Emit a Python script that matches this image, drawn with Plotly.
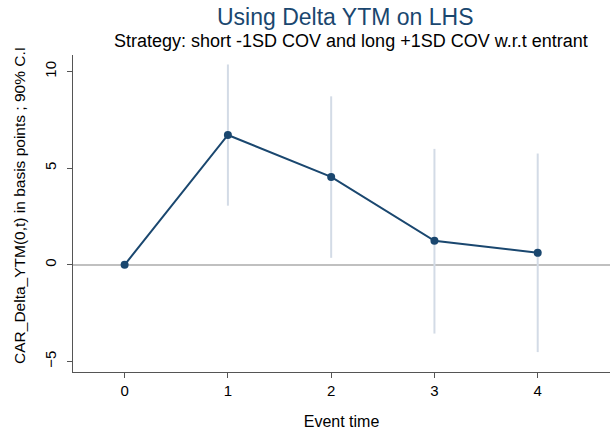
import plotly.graph_objects as go

event_time = [0, 1, 2, 3, 4]
car = [0.0, 6.72, 4.55, 1.24, 0.62]
ci_upper = [None, 10.37, 8.72, 6.0, 5.76]
ci_lower = [None, 3.06, 0.36, -3.56, -4.52]
x_ticks = [0, 1, 2, 3, 4]
y_ticks = [-5, 0, 5, 10]

FONT = "Liberation Sans, Arial, sans-serif"
NAVY = "#1a476f"

fig = go.Figure()

# confidence interval spikes
for x, lo, hi in zip(event_time, ci_lower, ci_upper):
    if lo is None:
        continue
    fig.add_trace(go.Scatter(x=[x, x], y=[lo, hi], mode="lines",
                             line=dict(color="#d3dbe6", width=2),
                             hoverinfo="skip", showlegend=False))

fig.add_trace(go.Scatter(x=event_time, y=car, mode="lines+markers",
                         line=dict(color=NAVY, width=2),
                         marker=dict(color=NAVY, size=8),
                         showlegend=False))

fig.update_layout(
    width=610, height=434,
    margin=dict(l=73, r=0, t=55, b=62),
    paper_bgcolor="white", plot_bgcolor="white",
    font=dict(family=FONT, color="black", size=15),
    annotations=[
        dict(text="Using Delta YTM on LHS", xref="paper", yref="paper",
             x=0.508, y=1.12, xanchor="center", yanchor="middle", showarrow=False,
             font=dict(family=FONT, size=23, color=NAVY)),
        dict(text="Strategy: short -1SD COV and long +1SD COV w.r.t entrant", xref="paper", yref="paper",
             x=0.518, y=1.044, xanchor="center", yanchor="middle", showarrow=False,
             font=dict(family=FONT, size=18, color="black")),
        dict(text="CAR_Delta_YTM(0,t) in basis points ; 90% C.I", xref="paper", yref="paper",
             x=-0.0987, y=0.527, xanchor="center", yanchor="middle", textangle=-90,
             showarrow=False, font=dict(family=FONT, size=15.5, color="black")),
    ],
)

fig.update_xaxes(range=[-0.5, 4.7], tickvals=x_ticks, ticks="outside", ticklen=5,
                 tickcolor="#555", showline=True, linecolor="#555", linewidth=1,
                 showgrid=False, zeroline=False,
                 title=dict(text="Event time", font=dict(size=16), standoff=17),
                 tickfont=dict(size=15))
fig.update_yaxes(range=[-5.55, 10.86], tickvals=y_ticks, ticks="outside", ticklen=5,
                 tickcolor="#555", showline=True, linecolor="#555", linewidth=1,
                 showgrid=False, zeroline=True, zerolinecolor="#c0c0c0", zerolinewidth=1.5,
                 tickangle=-90, ticklabelstandoff=5,
                 tickfont=dict(size=15))

fig.write_html("out.html", config={"displayModeBar": False},
               post_script="document.body.style.margin='0';document.body.style.overflow='hidden';")
